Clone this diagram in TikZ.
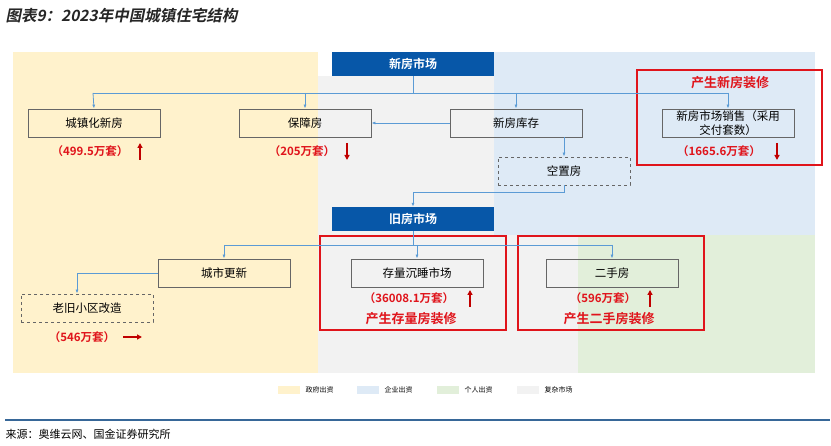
\documentclass[tikz,border=0pt]{standalone}
\usepackage{fontspec}
\setmainfont{Noto Sans CJK SC}
\newfontfamily\cjkb{Noto Sans CJK SC Bold}
\newfontfamily\cjkti[FakeSlant=0.2]{Noto Sans CJK SC Bold}
\usetikzlibrary{arrows.meta}
\definecolor{yel}{HTML}{FFF2CC}
\definecolor{blu}{HTML}{DEEAF6}
\definecolor{gre}{HTML}{E2EFDA}
\definecolor{gry}{HTML}{F2F2F2}
\definecolor{mk}{HTML}{0757A8}
\definecolor{ln}{HTML}{5B9BD5}
\definecolor{rd}{HTML}{E0141B}
\definecolor{ar}{HTML}{C00000}
\begin{document}
\begin{tikzpicture}[x=1pt,y=-1pt,
 box/.style={draw=gray!80!black,line width=0.8pt,minimum width=132pt,minimum height=28pt,inner sep=1pt,font=\fontsize{11.5}{13}\selectfont,align=center},
 dbox/.style={box,dashed},
 mkt/.style={fill=mk,text=white,minimum width=162pt,minimum height=24pt,font=\cjkb\fontsize{12}{14}\selectfont},
 con/.style={draw=ln,line width=0.8pt,-{Latex[length=4pt,width=3pt]}},
 lab/.style={text=rd,font=\cjkb\fontsize{11.5}{13}\selectfont},
 big/.style={text=rd,font=\cjkb\fontsize{13}{15}\selectfont},
 rbox/.style={draw=rd,line width=1.5pt},
 ra/.style={draw=ar,line width=1.8pt,-{Triangle[length=5pt,width=5pt]}},
 leg/.style={font=\fontsize{7}{8}\selectfont,anchor=west}]
\useasboundingbox (0,0) rectangle (831,446);
\fill[white] (0,0) rectangle (831,446);
\node[anchor=west,font=\cjkti\fontsize{15.5}{17}\selectfont,text=black!85] (title) at (2,16) {图表9：2023年中国城镇住宅结构};
% backgrounds
\fill[yel] (13,52) rectangle (318,373);
\fill[gry] (318,76) rectangle (494,373);
\fill[blu] (494,52) rectangle (815,235);
\fill[gry] (494,235) rectangle (578,373);
\fill[gre] (578,235) rectangle (815,373);
% red boxes
\draw[rbox] (637,70) rectangle (822,165);
\draw[rbox] (320,236) rectangle (506,330);
\draw[rbox] (518,236) rectangle (704,330);
% nodes
\node[mkt] (new) at (413,64) {新房市场};
\node[box] (cz) at (94,123) {城镇化新房};
\node[box] (bz) at (305,123) {保障房};
\node[box] (kc) at (516,123) {新房库存};
\node[box,font=\fontsize{11.5}{14}\selectfont] (xs) at (728,123) {新房市场销售（采用\\交付套数）};
\node[dbox] (kz) at (564,171) {空置房};
\node[mkt] (old) at (413,219) {旧房市场};
\node[box] (cs) at (224,273) {城市更新};
\node[box] (cl) at (417,273) {存量沉睡市场};
\node[box] (es) at (612,273) {二手房};
\node[dbox] (lj) at (87,308) {老旧小区改造};
% labels
\node[lab] (l1) at (90,151) {（499.5万套）};
\node[lab] (l2) at (302,151) {（205万套）};
\node[lab] (l3) at (719,151) {（1665.6万套）};
\node[big] (t1) at (730,83) {产生新房装修};
\node[lab] (l4) at (409,298) {（36008.1万套）};
\node[big] (t2) at (411,319) {产生存量房装修};
\node[lab] (l5) at (603,298) {（596万套）};
\node[big] (t3) at (609,319) {产生二手房装修};
\node[lab] (l6) at (82,337) {（546万套）};
% red arrows
\coordinate (a1) at (140,143); \coordinate (a1e) at (140,160);
\draw[ra] (a1e) -- (a1);
\coordinate (a2) at (347,143); \coordinate (a2e) at (347,160);
\draw[ra] (a2) -- (a2e);
\coordinate (a3) at (777,143); \coordinate (a3e) at (777,160);
\draw[ra] (a3) -- (a3e);
\coordinate (a4) at (470,307); \coordinate (a4e) at (470,290);
\draw[ra] (a4) -- (a4e);
\coordinate (a5) at (650,307); \coordinate (a5e) at (650,290);
\draw[ra] (a5) -- (a5e);
\coordinate (a6) at (123,337); \coordinate (a6e) at (142,337);
\draw[ra] (a6) -- (a6e);
% connectors
\draw[ln,line width=0.8pt] (new.south) -- (413,93);
\draw[ln,line width=0.8pt] (93,93) -- (728,93);
\draw[con] (93,93) -- (cz.north);
\draw[con] (305,93) -- (bz.north);
\draw[con] (516,93) -- (kc.north);
\draw[con] (728,93) -- (xs.north);
\draw[con] (kc.west) -- (bz.east);
\draw[con] (kc.south -| kz.north) -- (kz.north);
\draw[con] (kz.south) -- (564,192) -- (413,192) -- (old.north);
\draw[ln,line width=0.8pt] (old.south) -- (413,245);
\draw[ln,line width=0.8pt] (224,245) -- (612,245);
\draw[con] (224,245) -- (cs.north);
\draw[con] (417,245) -- (cl.north);
\draw[con] (612,245) -- (es.north);
\draw[con] (cs.west) -- (77,273) -- (lj.north -| 77,0);
% legend
\fill[yel] (278,386) rectangle (300,394); \node[leg] (g1) at (302,390) {政府出资};
\fill[blu] (357,386) rectangle (379,394); \node[leg] (g2) at (381,390) {企业出资};
\fill[gre] (437,386) rectangle (459,394); \node[leg] (g3) at (461,390) {个人出资};
\fill[gry] (517,386) rectangle (539,394); \node[leg] (g4) at (541,390) {复杂市场};
\draw[draw=mk!60!gray,line width=1.2pt] (5,420) -- (830,420);
\node[anchor=west,font=\fontsize{11}{13}\selectfont] (src) at (2,434) {来源：奥维云网、国金证券研究所};
\end{tikzpicture}
\end{document}
